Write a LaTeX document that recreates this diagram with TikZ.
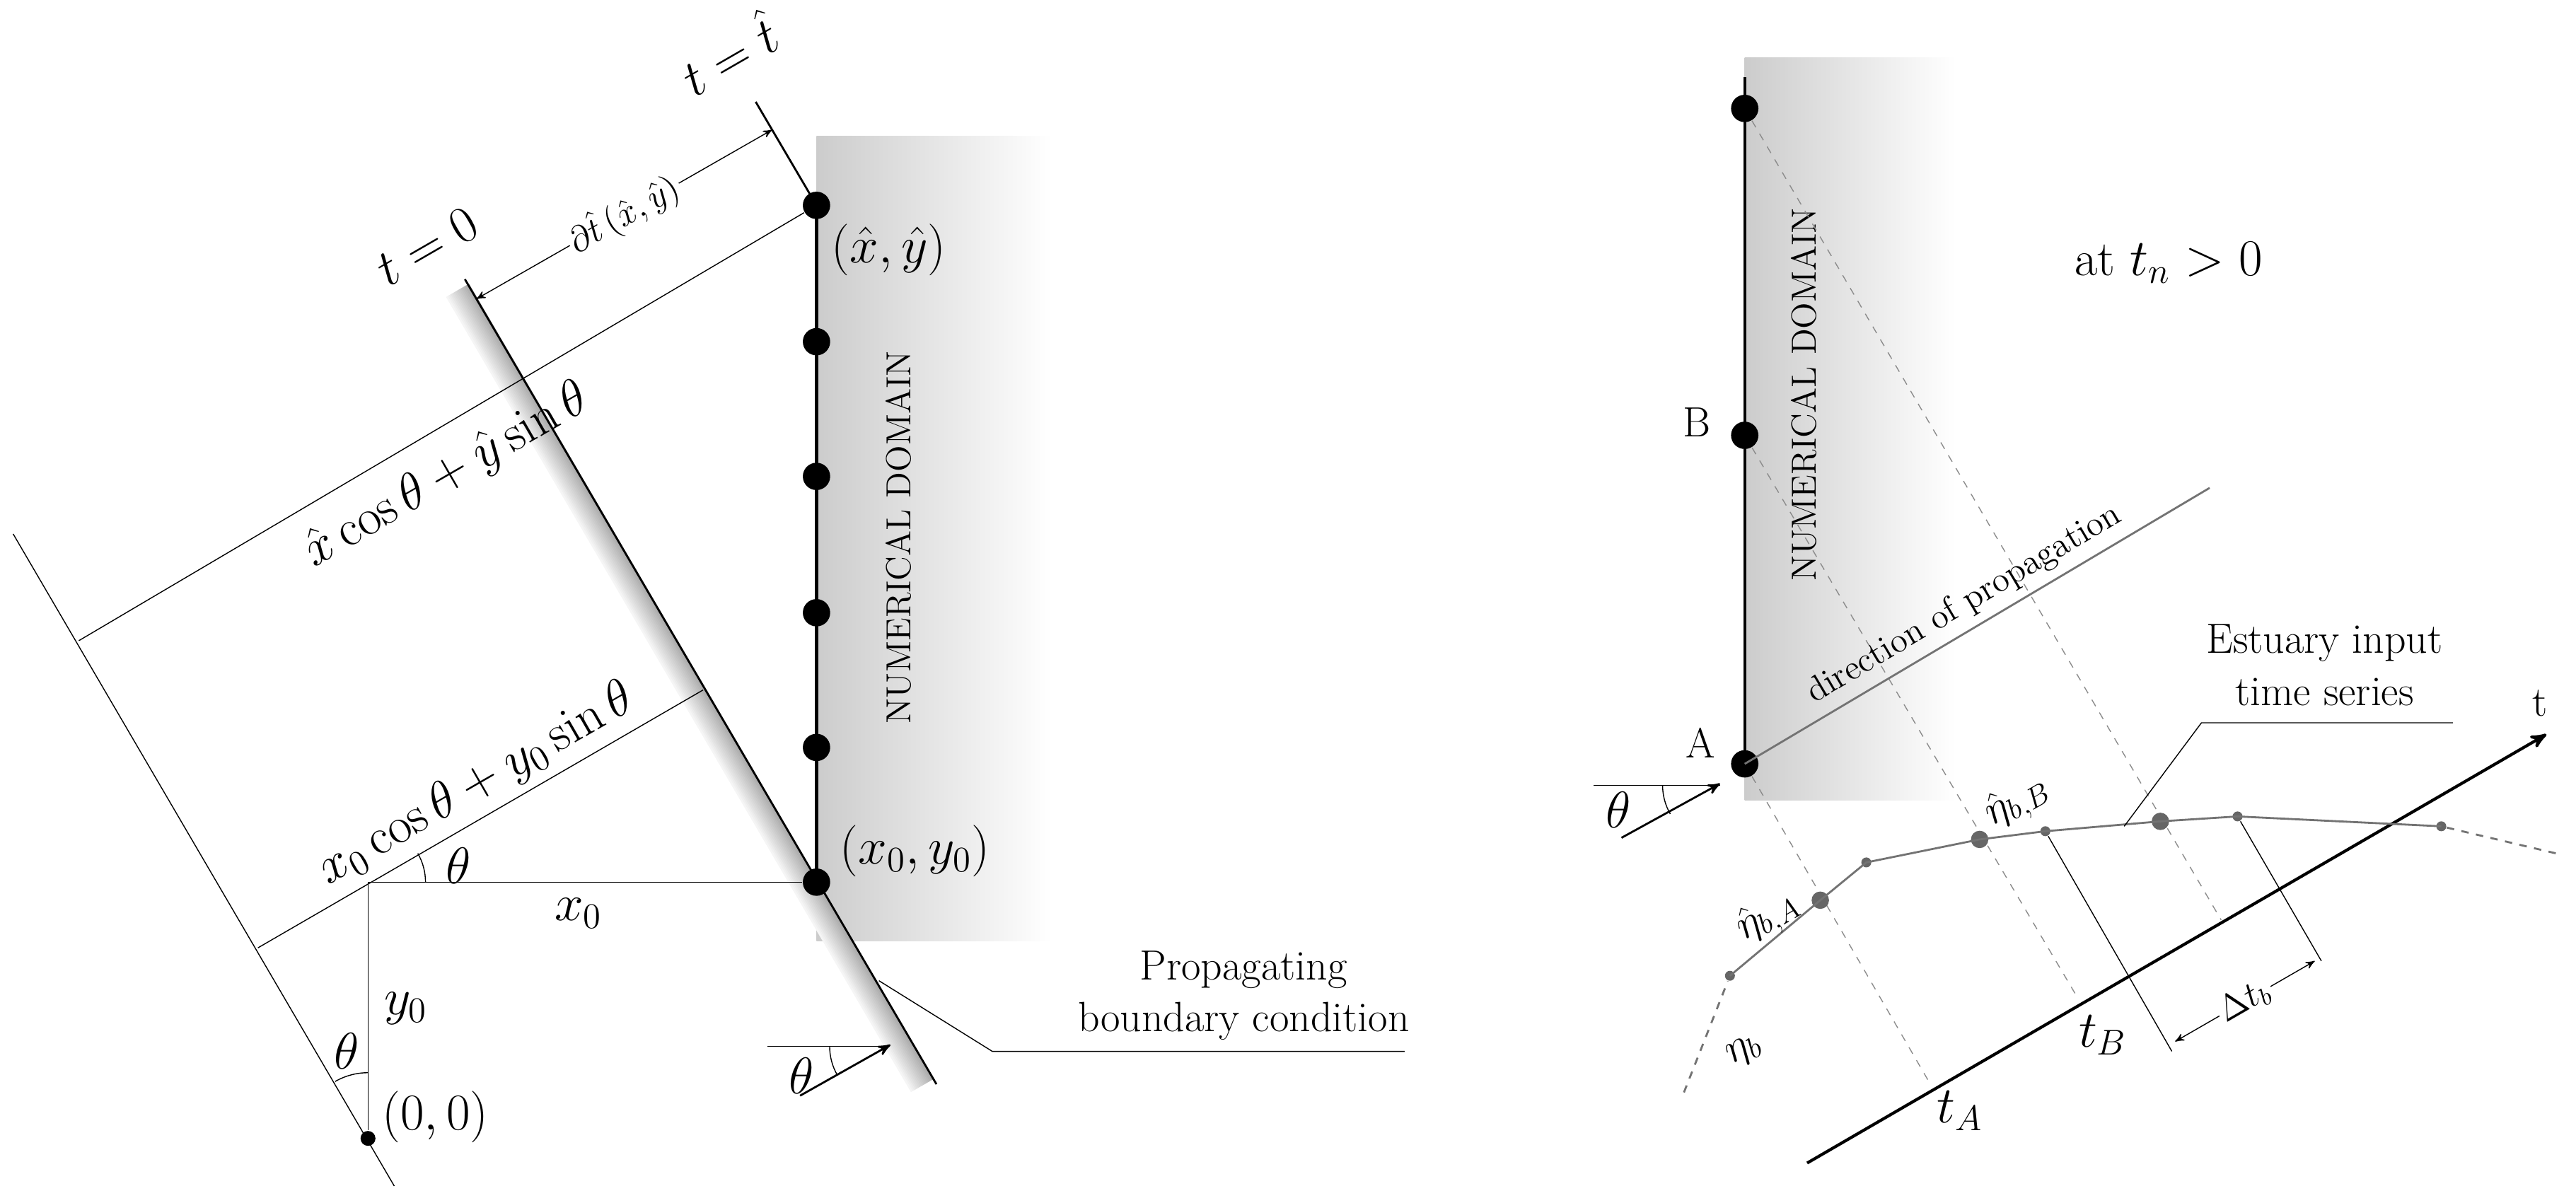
\documentclass[tikz,border=0pt]{standalone}
\usepackage{amsmath}
\usetikzlibrary{arrows,calc}

\begin{document}
\begin{tikzpicture}[x=0.023227cm,y=-0.023227cm,>=stealth',
  dot/.style={circle,fill=black,inner sep=0pt,minimum size=11pt},
  smalldot/.style={circle,fill=black,inner sep=0pt,minimum size=6pt},
  tsdot/.style={circle,fill=black!60,inner sep=0pt,minimum size=#1},
  tsdot/.default=4pt,
  big/.style={font=\fontsize{17}{21}\selectfont},
  bigger/.style={font=\fontsize{20}{24}\selectfont},
  small/.style={font=\fontsize{14}{16}\selectfont},
  semithick]
\useasboundingbox (0,0) rectangle (1568,732);

% left panel: shading
\shade[left color=black!20,right color=white] (497,83) rectangle (640,573);
\foreach \k in {0,...,15}
  \draw[line width=0.8pt,black!\fpeval{34-2*\k}]
    ($(285,173)+(-0.866*\k,0.5*\k)$) -- ($(568,657)+(-0.866*\k,0.5*\k)$);

\node[smalldot] (O) at (224,693) {};
\node[dot] (x0y0) at (497,537) {};
\node[dot] (d1) at (497,455) {};
\node[dot] (d2) at (497,373) {};
\node[dot] (d3) at (497,290) {};
\node[dot] (d4) at (497,208) {};
\node[dot] (xh) at (497,125) {};
\coordinate (farTop) at (8,325);
\coordinate (farBot) at (240,722);
\coordinate (bTop) at (283,170);
\coordinate (bBot) at (570,660);
\coordinate (hTop) at (460,62);
\coordinate (corner) at (224,537);

\draw[thin] (farTop) -- (farBot);
\draw[thick] (bTop) -- (bBot);
\draw[thick] (hTop) -- (xh.center);
\draw[very thick] (xh.center) -- (x0y0.center);
\draw[thin] (48,390) -- (xh);
\draw[thin] (157,577) -- (428,420);
\draw[thin] (corner) -- (x0y0);
\draw[thin] (O) -- (corner);
\draw[thin,<->] (290,182) -- node[small,fill=white,rotate=30,inner sep=1pt] {$\partial\hat{t}\,(\hat{x},\hat{y})$} (470,79);
\draw[thin] (259,537) arc[start angle=0,end angle=-30,radius=35];
\draw[thin] (224,653) arc[start angle=-90,end angle=-120,radius=40];

\node[bigger,rotate=30] (t0) at (260,150) {$t=0$};
\node[bigger,rotate=30] (th) at (443,32) {$t=\hat{t}$};
\node[bigger,rotate=30] (lxh) at (272,290) {$\hat{x}\cos\theta+\hat{y}\sin\theta$};
\node[bigger,rotate=30] (lx0) at (290,478) {$x_0\cos\theta+y_0\sin\theta$};
\node[bigger] (th1) at (279,527) {$\theta$};
\node[bigger] (lx) at (352,556) {$x_0$};
\node[bigger] (ly) at (247,614) {$y_0$};
\node[bigger] (th2) at (211,640) {$\theta$};
\node[bigger] (l00) at (265,680) {$(0,0)$};
\node[bigger] (lxy) at (541,152) {$(\hat{x},\hat{y})$};
\node[bigger] (lx0y0) at (557,518) {$(x_0,y_0)$};
\node[small,rotate=90] (nd1) at (547,327) {NUMERICAL DOMAIN};
\node[big,align=center] (pbc) at (757,606) {Propagating\\boundary condition};
\draw[thin] (535,597) -- (604,640) -- (855,640);

\draw[thin] (467,637) -- (540,637);
\draw[thick,->] (487,667) -- (542,636);
\draw[thin] (505,637) arc[start angle=180,end angle=150,radius=35];
\node[bigger] (th3) at (488,655) {$\theta$};

% right panel
\shade[left color=black!20,right color=white] (1062,35) rectangle (1190,487);
\node[dot] (T) at (1062,66) {};
\node[dot] (B) at (1062,265) {};
\node[dot] (A) at (1062,465) {};
\draw[very thick] (1062,47) -- (A.center);
\node[big] (lB) at (1033,257) {B};
\node[big] (lA) at (1035,452) {A};
\node[small,rotate=90] (nd2) at (1098,240) {NUMERICAL DOMAIN};
\node[bigger] (tn) at (1320,160) {at $t_n>0$};

\coordinate (tA) at (1175,660);
\coordinate (tB) at (1265,608);
\coordinate (tT) at (1352,560);
\draw[black!45,dashed,thin] (A) -- (tA);
\draw[black!45,dashed,thin] (B) -- (tB);
\draw[black!45,dashed,thin] (T) -- (tT);

\draw[black!55,thick] (A.center) -- node[small,black,rotate=30.7,above,pos=0.5] {direction of propagation} (1345,297);

\draw[thin] (970,478) -- (1047,478);
\draw[thick,->] (987,510) -- (1047,477);
\draw[thin] (1012,478) arc[start angle=180,end angle=150,radius=35];
\node[bigger] (th4) at (985,493) {$\theta$};

\draw[very thick,->] (1100,708) -- (1550,447);
\node[big] (lt) at (1546,428) {t};

\node[tsdot=4pt] (ts1) at (1053,594) {};
\node[tsdot=7pt] (ts2) at (1108,548) {};
\node[tsdot=4pt] (ts3) at (1136,525) {};
\node[tsdot=7pt] (ts4) at (1205,511) {};
\node[tsdot=4pt] (ts5) at (1245,506) {};
\node[tsdot=7pt] (ts6) at (1315,500) {};
\node[tsdot=4pt] (ts7) at (1362,497) {};
\node[tsdot=4pt] (ts8) at (1486,503) {};
\coordinate (ts0) at (1025,665);
\coordinate (ts9) at (1558,520);
\draw[black!55,thick] (ts1.center) -- (ts2.center) -- (ts3.center) -- (ts4.center)
  -- (ts5.center) -- (ts6.center) -- (ts7.center) -- (ts8.center);
\draw[black!55,thick,dashed] (ts0) -- (ts1);
\draw[black!55,thick,dashed] (ts8) -- (ts9);

\coordinate (p1) at (1322,640);
\coordinate (p2) at (1413,585);
\draw[thin] (ts5) -- (p1);
\draw[thin] (ts7) -- (p2);
\draw[thin,<->] (1324,634) -- node[small,fill=white,rotate=30,inner sep=1pt] {$\Delta t_b$} (1409,585);

\node[big,rotate=30] (eA) at (1076,558) {$\hat{\eta}_{b,A}$};
\node[big,rotate=30] (eB) at (1228,488) {$\hat{\eta}_{b,B}$};
\node[big,rotate=30] (eb) at (1062,640) {$\eta_b$};
\node[bigger] (ltB) at (1280,630) {$t_B$};
\node[bigger] (ltA) at (1193,676) {$t_A$};
\node[big,align=center] (est) at (1415,405) {Estuary input\\time series};
\draw[thin] (1293,503) -- (1340,440) -- (1493,440);
\end{tikzpicture}
\end{document}
